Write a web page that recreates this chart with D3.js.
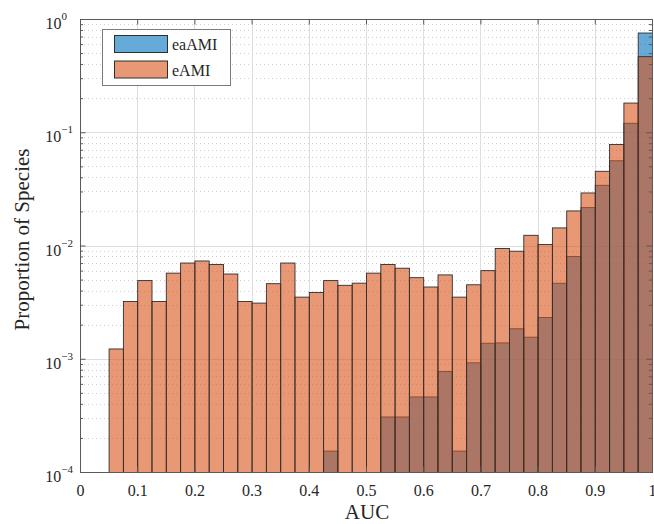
<!DOCTYPE html>
<html>
<head>
<meta charset="utf-8">
<script src="https://cdn.jsdelivr.net/npm/d3@7"></script>
<style>
  body { margin: 0; background: #fff; }
  svg { display: block; }
  text { font-family: "Liberation Serif", "Times New Roman", serif; fill: #262626; }
</style>
</head>
<body>
<svg id="chart" width="654" height="524"></svg>
<script>
// Histogram bin edges (AUC), width 0.025
const binEdges = [0.05, 0.075, 0.1, 0.125, 0.15, 0.175, 0.2, 0.225, 0.25, 0.275,
                  0.3, 0.325, 0.35, 0.375, 0.4, 0.425, 0.45, 0.475, 0.5, 0.525,
                  0.55, 0.575, 0.6, 0.625, 0.65, 0.675, 0.7, 0.725, 0.75, 0.775,
                  0.8, 0.825, 0.85, 0.875, 0.9, 0.925, 0.95, 0.975, 1.0];

// Proportion of species per bin (0 = empty bin)
const eaAMI = [0, 0, 0, 0, 0, 0, 0, 0, 0, 0,
               0, 0, 0, 0, 0, 1.53e-4, 0, 0, 0, 3.06e-4,
               3.06e-4, 4.6e-4, 4.6e-4, 7.7e-4, 1.53e-4, 9.2e-4, 1.37e-3, 1.38e-3, 1.84e-3, 1.55e-3,
               2.31e-3, 4.64e-3, 8.0e-3, 2.16e-2, 3.4e-2, 5.6e-2, 0.120, 0.752];

const eAMI = [1.22e-3, 3.2e-3, 4.9e-3, 3.2e-3, 5.7e-3, 7.0e-3, 7.3e-3, 6.8e-3, 5.6e-3, 3.2e-3,
              3.1e-3, 4.6e-3, 7.0e-3, 3.5e-3, 3.85e-3, 4.9e-3, 4.45e-3, 4.65e-3, 5.7e-3, 6.8e-3,
              6.3e-3, 5.2e-3, 4.3e-3, 5.5e-3, 3.5e-3, 4.5e-3, 6.0e-3, 9.4e-3, 8.9e-3, 1.23e-2,
              1.02e-2, 1.43e-2, 2.02e-2, 2.91e-2, 4.52e-2, 7.8e-2, 0.181, 0.465];

const seriesNames = ["eaAMI", "eAMI"];
const seriesColors = ["#0072bd", "#d95319"];

const xTicks = [0, 0.1, 0.2, 0.3, 0.4, 0.5, 0.6, 0.7, 0.8, 0.9, 1];
const xTickLabels = ["0", "0.1", "0.2", "0.3", "0.4", "0.5", "0.6", "0.7", "0.8", "0.9", "1"];
const yTicks = [1e-4, 1e-3, 1e-2, 1e-1, 1];
const yTickExponents = ["\u22124", "\u22123", "\u22122", "\u22121", "0"];

const svg = d3.select("#chart");
const L = 80, R = 652, T = 19, B = 472;
const x = d3.scaleLinear().domain([0, 1]).range([L, R]);
const y = d3.scaleLog().domain([1e-4, 1]).range([B, T]);
const axisColor = "#5a5a5a";
const serif = '"Liberation Serif", "Times New Roman", serif';

// minor log ticks
const yMinor = [];
for (let d = -4; d < 0; d++) for (let k = 2; k <= 9; k++) yMinor.push(k * Math.pow(10, d));

// grid
const grid = svg.append("g");
grid.selectAll(".ym").data(yMinor).join("line")
  .attr("x1", L).attr("x2", R)
  .attr("y1", d => Math.round(y(d)) + 0.5).attr("y2", d => Math.round(y(d)) + 0.5)
  .attr("stroke", "#cdcdcd").attr("stroke-width", 1).attr("stroke-dasharray", "1,3");
grid.selectAll(".yM").data(yTicks).join("line")
  .attr("x1", L).attr("x2", R)
  .attr("y1", d => Math.round(y(d)) + 0.5).attr("y2", d => Math.round(y(d)) + 0.5)
  .attr("stroke", "#dedede").attr("stroke-width", 1);
grid.selectAll(".xM").data(xTicks).join("line")
  .attr("y1", T).attr("y2", B)
  .attr("x1", d => Math.round(x(d)) + 0.5).attr("x2", d => Math.round(x(d)) + 0.5)
  .attr("stroke", "#dedede").attr("stroke-width", 1);

// bars: eaAMI first, eAMI over it, both semi-transparent
const seriesData = [eaAMI, eAMI];
seriesData.forEach((vals, si) => {
  const bins = vals.map((v, i) => ({ x0: binEdges[i], x1: binEdges[i + 1], v }))
                   .filter(d => d.v > 0);
  svg.append("g").selectAll("rect").data(bins).join("rect")
    .attr("x", d => x(d.x0) + 0.5)
    .attr("width", d => x(d.x1) - x(d.x0))
    .attr("y", d => y(d.v))
    .attr("height", d => y(1e-4) - y(d.v) + 0.5)
    .attr("fill", seriesColors[si]).attr("fill-opacity", 0.6)
    .attr("stroke", "#2e2e2e").attr("stroke-width", 0.9);
});

// axes (ticks pointing inward, box on)
const tk = 5.5;
const gB = svg.append("g").attr("transform", `translate(0,${B})`)
  .call(d3.axisBottom(x).tickValues(xTicks).tickSize(-tk).tickSizeOuter(0)
        .tickPadding(13).tickFormat((d, i) => xTickLabels[i]));
const gT = svg.append("g").attr("transform", `translate(0,${T})`)
  .call(d3.axisTop(x).tickValues(xTicks).tickSize(-tk).tickSizeOuter(0).tickFormat(""));
const gL = svg.append("g").attr("transform", `translate(${L},0)`)
  .call(d3.axisLeft(y).tickValues(yTicks).tickSize(-tk).tickSizeOuter(0).tickFormat(""));
const gR = svg.append("g").attr("transform", `translate(${R},0)`)
  .call(d3.axisRight(y).tickValues(yTicks).tickSize(-tk).tickSizeOuter(0).tickFormat(""));
const gLm = svg.append("g").attr("transform", `translate(${L},0)`)
  .call(d3.axisLeft(y).tickValues(yMinor).tickSize(-3).tickSizeOuter(0).tickFormat(""));
const gRm = svg.append("g").attr("transform", `translate(${R},0)`)
  .call(d3.axisRight(y).tickValues(yMinor).tickSize(-3).tickSizeOuter(0).tickFormat(""));
[gB, gT, gL, gR, gLm, gRm].forEach(g => {
  g.attr("font-family", serif).attr("font-size", 16);
  g.select(".domain").attr("stroke", axisColor);
  g.selectAll(".tick line").attr("stroke", axisColor);
});
gLm.select(".domain").remove();
gRm.select(".domain").remove();
gB.selectAll(".tick text").attr("fill", "#262626");

// y tick labels as powers of ten
const yl = svg.append("g").selectAll("text").data(yTicks).join("text")
  .attr("text-anchor", "end")
  .attr("x", (d, i) => yTickExponents[i] === "0" ? 67 : 73)
  .attr("y", d => y(d) + 10)
  .attr("font-size", 16);
yl.append("tspan").text("10");
yl.append("tspan").attr("font-size", 11).attr("dy", -9).text((d, i) => yTickExponents[i]);

// axis titles
svg.append("text").attr("x", (L + R) / 2 + 1).attr("y", 519)
  .attr("text-anchor", "middle").attr("font-size", 21).text("AUC");
svg.append("text").attr("transform", `translate(29,${(T + B) / 2 - 6}) rotate(-90)`)
  .attr("text-anchor", "middle").attr("font-size", 21).text("Proportion of Species");

// legend
const lg = svg.append("g");
lg.append("rect").attr("x", 102.5).attr("y", 29.5).attr("width", 128).attr("height", 56)
  .attr("fill", "#fff").attr("stroke", "#7a7a7a").attr("stroke-width", 1);
seriesNames.forEach((name, i) => {
  lg.append("rect").attr("x", 114.5).attr("y", 35.5 + i * 25.5).attr("width", 53).attr("height", 17)
    .attr("fill", seriesColors[i]).attr("fill-opacity", 0.6)
    .attr("stroke", "#2e2e2e").attr("stroke-width", 1);
  lg.append("text").attr("x", 172).attr("y", 50 + i * 25.5).attr("font-size", 16).text(name);
});
</script>
</body>
</html>
